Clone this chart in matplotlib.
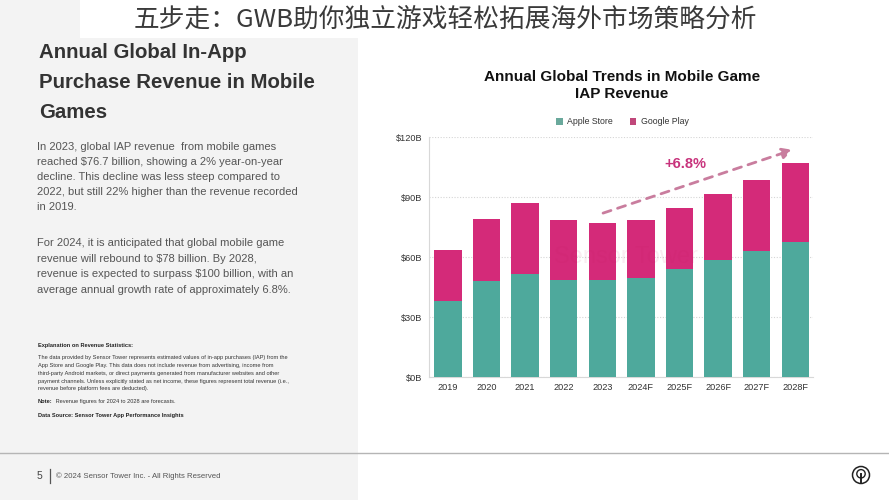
import matplotlib
matplotlib.use("Agg")
import matplotlib.pyplot as plt
from matplotlib.patches import Rectangle, Circle, FancyArrowPatch, Patch
import numpy as np

plt.rcParams['font.family'] = ['Liberation Sans', 'DejaVu Sans']

# ---- data ----
years = ["2019", "2020", "2021", "2022", "2023", "2024F", "2025F", "2026F", "2027F", "2028F"]
apple_store = [38.0, 48.0, 51.3, 48.5, 48.5, 49.7, 54.0, 58.5, 63.0, 67.5]
google_play = [25.5, 31.0, 35.5, 30.0, 28.5, 28.6, 30.5, 33.2, 35.7, 39.3]
y_ticks = [0, 30, 60, 90, 120]
y_tick_labels = ["$0B", "$30B", "$60B", "$90B", "$120B"]
series_names = ["Apple Store", "Google Play"]
growth_label = "+6.8%"

page_title = "五步走：GWB助你独立游戏轻松拓展海外市场策略分析"
left_title = ["Annual Global In-App", "Purchase Revenue in Mobile", "Games"]
para1 = ["In 2023, global IAP revenue  from mobile games",
         "reached $76.7 billion, showing a 2% year-on-year",
         "decline. This decline was less steep compared to",
         "2022, but still 22% higher than the revenue recorded",
         "in 2019."]
para2 = ["For 2024, it is anticipated that global mobile game",
         "revenue will rebound to $78 billion. By 2028,",
         "revenue is expected to surpass $100 billion, with an",
         "average annual growth rate of approximately 6.8%."]
expl_head = "Explanation on Revenue Statistics:"
expl_body = ["The data provided by Sensor Tower represents estimated values of in-app purchases (IAP) from the",
             "App Store and Google Play. This data does not include revenue from advertising, income from",
             "third-party Android markets, or direct payments generated from manufacturer websites and other",
             "payment channels. Unless explicitly stated as net income, these figures represent total revenue (i.e.,",
             "revenue before platform fees are deducted)."]
note_text = ("Note:", " Revenue figures for 2024 to 2028 are forecasts.")
source_text = "Data Source: Sensor Tower App Performance Insights"
footer_text = "© 2024 Sensor Tower Inc. - All Rights Reserved"
chart_title = "Annual Global Trends in Mobile Game\nIAP Revenue"

W, H = 889, 500
fig = plt.figure(figsize=(W / 100, H / 100), dpi=100)
fig.patch.set_facecolor("white")

def fx(x):
    return x / W

def fy(y):
    return 1 - y / H

# background panels
fig.patches.append(Rectangle((0, 0), fx(358), 1, transform=fig.transFigure,
                             facecolor="#f3f3f3", edgecolor="none", zorder=0))
fig.patches.append(Rectangle((fx(80), fy(38)), 1, 1, transform=fig.transFigure,
                             facecolor="white", edgecolor="none", zorder=0))
fig.add_artist(plt.Line2D([0, 1], [fy(453), fy(453)], transform=fig.transFigure,
                          color="#b5b5b5", lw=1.0))

# page title
fig.text(fx(445), fy(20), page_title, ha="center", va="center", fontsize=18.5,
         color="#3a3a3a", family=["Noto Sans CJK SC", "DejaVu Sans"], weight="light")

# left title
for i, line in enumerate(left_title):
    fig.text(fx(39), fy(53 + i * 29.5), line, ha="left", va="center",
             fontsize=14.7, weight="bold", color="#333333")

for i, line in enumerate(para1):
    fig.text(fx(37), fy(147 + i * 15.1), line, ha="left", va="center",
             fontsize=8.0, color="#555555")
for i, line in enumerate(para2):
    fig.text(fx(37), fy(243.5 + i * 15.4), line, ha="left", va="center",
             fontsize=8.0, color="#555555")

fig.text(fx(38), fy(345), expl_head, ha="left", va="center", fontsize=4.1,
         weight="bold", color="#222222")
for i, line in enumerate(expl_body):
    fig.text(fx(38), fy(358 + i * 7.7), line, ha="left", va="center",
             fontsize=4.1, color="#333333")
fig.text(fx(38), fy(401.5), note_text[0], ha="left", va="center", fontsize=4.1,
         weight="bold", color="#222222")
fig.text(fx(54.5), fy(401.5), note_text[1], ha="left", va="center", fontsize=4.1,
         color="#333333")
fig.text(fx(38), fy(415), source_text, ha="left", va="center", fontsize=4.1,
         weight="bold", color="#222222")

# footer
fig.text(fx(37), fy(476), "5", ha="left", va="center", fontsize=7.5, color="#444444")
fig.add_artist(plt.Line2D([fx(49.5), fx(49.5)], [fy(469), fy(483)], transform=fig.transFigure,
                          color="#555555", lw=0.9))
fig.text(fx(56), fy(476), footer_text, ha="left", va="center", fontsize=5.6, color="#555555")

# logo icon
lax = fig.add_axes([fx(851), fy(485), fx(20), 20 / H])
lax.set_xlim(-1, 1); lax.set_ylim(-1, 1); lax.set_aspect("equal"); lax.axis("off")
lax.add_patch(Circle((0, 0), 0.85, fill=False, lw=1.1, ec="#222222"))
lax.add_patch(Circle((0, 0.12), 0.42, fill=False, lw=1.0, ec="#222222"))
lax.plot([0, 0], [0.12, -0.7], color="#222222", lw=1.4)

# ---- chart ----
teal = "#4ea99c"
pink = "#d42a79"
ax = fig.add_axes([fx(429.3), fy(377), fx(813) - fx(429.3), (377 - 137) / H])
ax.set_facecolor("white")
x = np.arange(len(years))
ax.bar(x, apple_store, width=0.71, color=teal, zorder=3, label=series_names[0])
ax.bar(x, google_play, width=0.71, bottom=apple_store, color=pink, zorder=3,
       label=series_names[1])
ax.set_xlim(-0.485, len(years) - 1 + 0.46)
ax.set_ylim(0, 120)
ax.set_yticks(y_ticks)
ax.set_yticklabels(y_tick_labels)
ax.set_xticks(x)
ax.set_xticklabels(years)
ax.tick_params(length=0, labelsize=6.6, colors="#333333", pad=5)
ax.tick_params(axis="x", pad=4)
for s in ["top", "right"]:
    ax.spines[s].set_visible(False)
ax.spines["left"].set_color("#d8d8d8")
ax.spines["bottom"].set_color("#d8d8d8")
ax.grid(axis="y", linestyle=(0, (1, 1.5)), color="#d5d5d5", lw=0.8, zorder=0)

# growth arrow (from above the 2023 bar towards the 2028F bar)
start_y = apple_store[4] + google_play[4] + 4.5
arr = FancyArrowPatch((3.95, start_y), (9.0, 114), arrowstyle="-|>,head_length=6,head_width=3.2",
                      linestyle=(0, (3, 2.5)), color="#c97d9e", lw=2.0,
                      mutation_scale=1, zorder=4)
ax.add_patch(arr)
ax.text(6.15, 106.5, growth_label, ha="center", va="center", fontsize=10.5,
        weight="bold", color="#c8337c", zorder=5)

# watermark
ax.text(4.6, 60, "Sensor Tower", ha="center", va="center", fontsize=17,
        color="#c2185b", alpha=0.08, zorder=4)

# legend
handles = [Patch(facecolor="#6aa99c", label=series_names[0]),
           Patch(facecolor="#c0477a", label=series_names[1])]
leg = fig.legend(handles=handles, loc="center", bbox_to_anchor=(fx(622.5), fy(122)),
                 ncol=2, frameon=False, fontsize=6.3, handlelength=0.7,
                 handleheight=0.7, handletextpad=0.5, columnspacing=2.0)
for txt in leg.get_texts():
    txt.set_color("#333333")

fig.text(fx(622), fy(85.5), chart_title, ha="center", va="center", fontsize=11.0,
         weight="bold", color="#111111", linespacing=1.2)

fig.savefig("out.png", dpi=100)
